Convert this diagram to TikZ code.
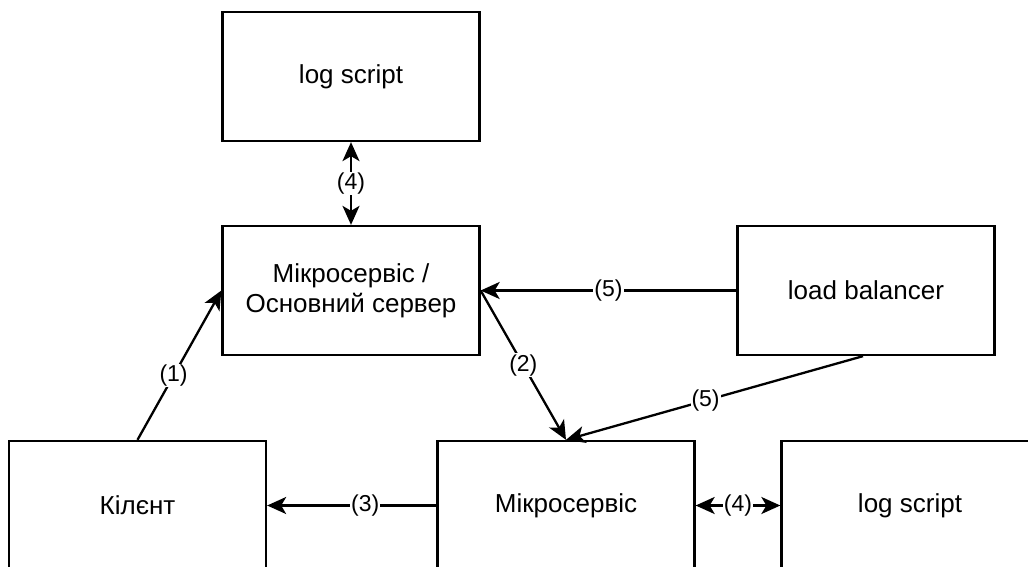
\documentclass[tikz,border=0pt]{standalone}
\usepackage{fontspec}
\setmainfont{Liberation Sans}
\usetikzlibrary{arrows.meta}
\begin{document}
\begin{tikzpicture}[x=1pt, y=-1pt,
  tip/.style={Stealth[length=19pt, width=17pt, inset=5pt]},
  box/.style={draw, line width=2.3pt, minimum width=257pt, minimum height=129pt,
    align=center, font=\fontsize{26}{30}\selectfont, inner sep=0pt},
  conn/.style={line width=2.3pt, -{Stealth[length=19pt, width=17pt, inset=5pt]}},
  biconn/.style={line width=2.3pt, {Stealth[length=19pt, width=17pt, inset=5pt]}-{Stealth[length=19pt, width=17pt, inset=5pt]}},
  lbl/.style={fill=white, font=\fontsize{23}{25}\selectfont, inner sep=1pt}]
  \useasboundingbox (0,0) rectangle (1028,567);
  \clip (0,0) rectangle (1028,567);

  % boxes
  \node[box] (logtop) at (351,76.5) {log script};
  \node[box] (main) at (351,290.5) {Мікросервіс /\\Основний сервер};
  \node[box] (lb) at (866,290.5) {load balancer};
  \node[box] (client) at (137.5,505.5) {Кілєнт};
  \node[box] (micro) at (566,505.5) {Мікросервіс};
  \node[box] (logright) at (910,505.5) {log script};

  % connectors
  \draw[biconn] (logtop.south) -- node[lbl] {(4)} (main.north);
  \draw[conn] (lb.west) -- node[lbl] {(5)} (main.east);
  \draw[conn] (main.east) -- node[lbl] {(2)} (micro.north);
  \draw[conn] ([xshift=-3pt]lb.south) -- node[lbl, pos=0.53] {(5)} (micro.north);
  \draw[conn] (client.north) -- node[lbl, pos=0.43] {(1)} (main.west);
  \draw[conn] (micro.west) -- node[lbl, pos=0.42] {(3)} (client.east);
  \draw[biconn] (micro.east) -- node[lbl] {(4)} (logright.west);
\end{tikzpicture}
\end{document}
